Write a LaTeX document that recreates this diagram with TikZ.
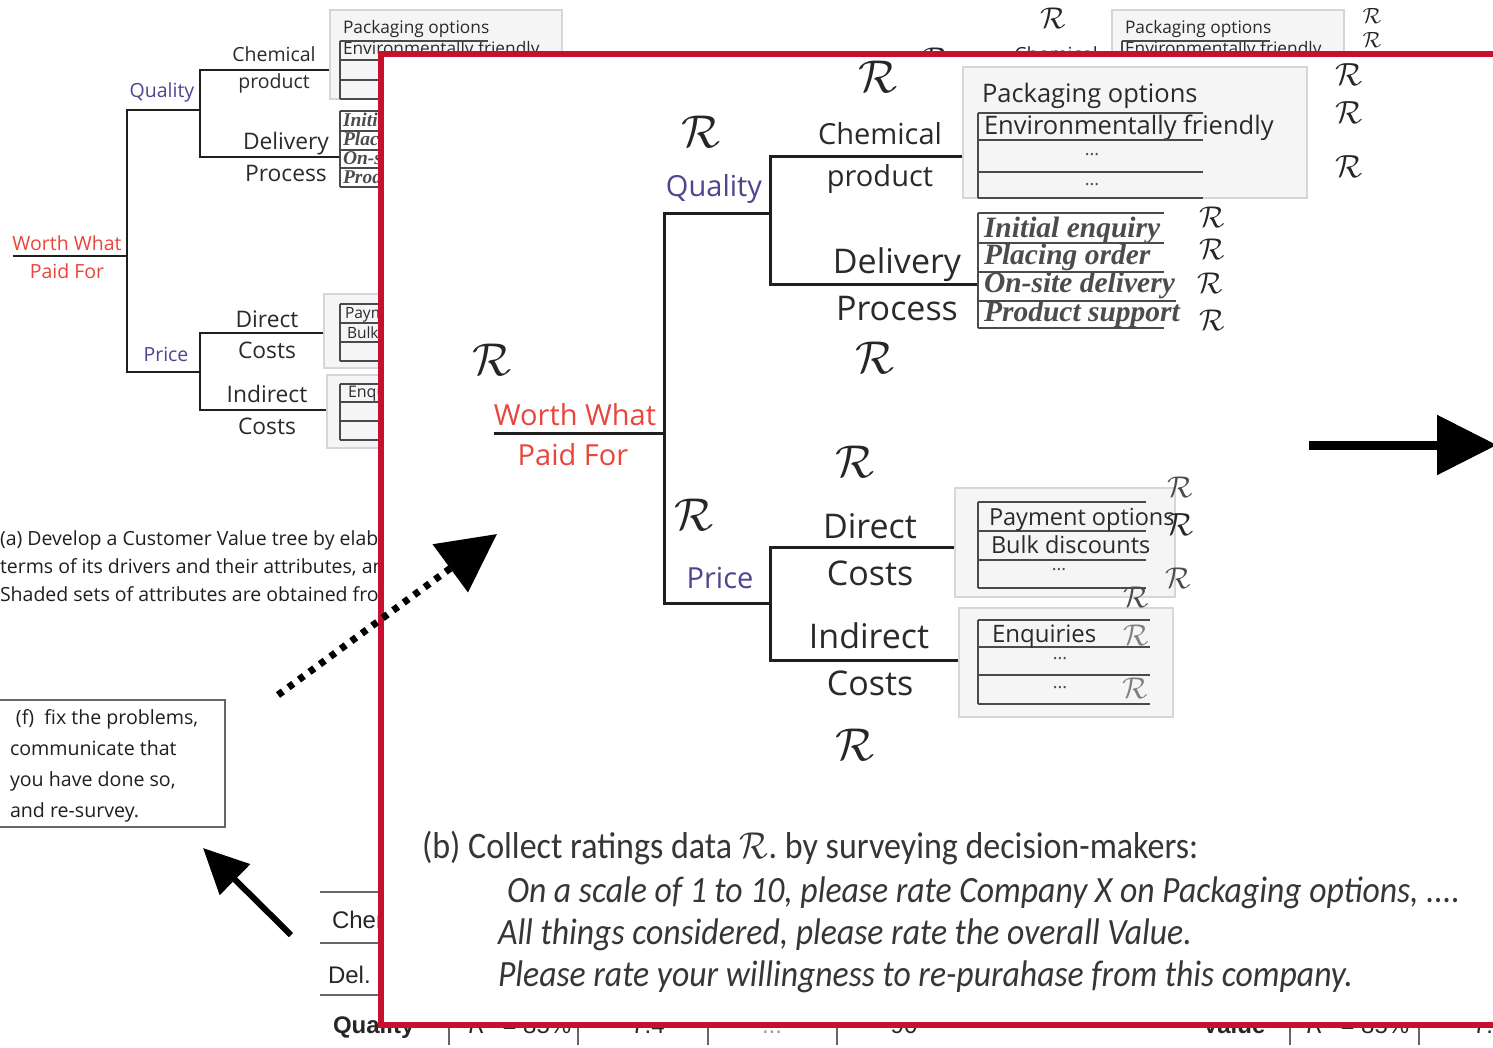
\documentclass[tikz,border=0pt]{standalone}
\usepackage{fontspec}
\setmainfont{Open Sans}
\newfontfamily\calfont{Carlito}
\newfontfamily\attrfont{Liberation Serif}
\newfontfamily\tabfont{Liberation Sans}
\usetikzlibrary{arrows.meta}
\newcommand\fsz[1]{\fontsize{#1}{#1}\selectfont}
% calligraphic R scaled to the current font size
\makeatletter
\newcommand\Rsym{{\font\rtmp=cmsy10 at \f@size pt\rtmp R}}
\makeatother
\newcommand\tall[1]{\scalebox{1}[1.1]{#1}}
\definecolor{wwred}{HTML}{E8453C}
\definecolor{drvpurple}{HTML}{54428E}
\definecolor{framered}{HTML}{C8102E}
\definecolor{shade}{HTML}{F5F5F5}
\definecolor{shadeedge}{HTML}{D6D6D6}
\definecolor{rowline}{HTML}{4A4A4A}
\definecolor{labeltext}{HTML}{2A2A2A}
\definecolor{btext}{HTML}{363636}

\begin{document}
\begin{tikzpicture}[x=1pt,y=-1pt,
  every node/.style={inner sep=0pt,outer sep=0pt},
  lbig/.style={font=\fsz{29},text=labeltext,anchor=base},
  lbigw/.style={font=\fsz{34},text=labeltext,anchor=base},
  lsmall/.style={font=\fsz{19.5},text=labeltext,anchor=base},
  lsmallw/.style={font=\fsz{22.8},text=labeltext,anchor=base},
  treeline/.style={line width=3pt,draw=black!88},
  streeline/.style={line width=2pt,draw=black!88},
  shadebox/.style={fill=shade,draw=shadeedge,line width=1.5pt},
  rowrule/.style={line width=2.6pt,draw=rowline},
  srowrule/.style={line width=1.6pt,draw=rowline},
  rmark/.style={font=\fsz{#1},text=black!85},
  rmark/.default=30,
  boxtext/.style={font=\fsz{#1},text=labeltext,anchor=base west},
  attr/.style={font=\attrfont\bfseries\itshape\fsz{#1},text=black!70,anchor=base west},
  btxt/.style={font=\calfont\itshape\fsz{33.7},text=btext,anchor=base west},
  tabtxt/.style={font=\tabfont\fsz{24},text=black!85},
  tabrule/.style={line width=1.4pt,draw=black!60},
]
\useasboundingbox (0,0) rectangle (1493,1048);
\fill[white] (0,0) rectangle (1493,1048);

% ---------- step (a): small customer value tree ----------
\node[lsmall,text=wwred] (sww) at (67,251) {Worth What};
\node[lsmall,text=wwred] (spf) at (67,279) {Paid For};
\node[lsmall,text=drvpurple] (squal) at (162,98) {Quality};
\node[lsmall,text=drvpurple] (sprice) at (166,362) {Price};
\node[lsmall] (schem) at (274,62) {Chemical};
\node[lsmall] (sprod) at (274,89) {product};
\node[lsmallw] (sdeliv) at (286,150) {Delivery};
\node[lsmallw] (sproc) at (286,182) {Process};
\node[lsmallw] (sdir) at (267,327) {Direct};
\node[lsmallw] (sdcost) at (267,359) {Costs};
\node[lsmallw] (sind) at (267,402) {Indirect};
\node[lsmallw] (sicost) at (267,434) {Costs};

\coordinate (sroot) at (13,256);
\coordinate (srj) at (127,256);
\coordinate (sqj) at (127,110);
\coordinate (spj) at (127,372);
\coordinate (sq2) at (200,110);
\coordinate (sp2) at (200,372);
\coordinate (schj) at (200,70);
\coordinate (sdlj) at (200,157);
\coordinate (sdcj) at (200,333);
\coordinate (sicj) at (200,410);
\coordinate (schE) at (340,70);
\coordinate (sdlE) at (340,157);
\coordinate (sdcE) at (340,333);
\coordinate (sicE) at (340,410);
\draw[streeline] (sroot) -- (srj);
\draw[streeline] (sq2) -- (sqj) -- (spj) -- (sp2);
\draw[streeline] (schE) -- (schj) -- (sdlj) -- (sdlE);
\draw[streeline] (sdcE) -- (sdcj) -- (sicj) -- (sicE);

% attribute groups of the small tree
\draw[shadebox] (330,10) rectangle (562,99);
\draw[shadebox] (324,294) rectangle (600,368);
\draw[shadebox] (327,375) rectangle (600,448);
\node[boxtext=17.3] (spack) at (343,34) {Packaging options};
\node[boxtext=17.3] (senv) at (343,55) {Environmentally friendly};
\draw[srowrule] (340,41) -- (340,99);
\foreach \yy in {41,60,80,99} \draw[srowrule] (340,\yy) -- (488,\yy);
\draw[srowrule] (340,111) -- (340,187);
\foreach \yy in {111,131,150,168,187} \draw[srowrule] (340,\yy) -- (450,\yy);
\node[attr=19.5] (sa1) at (343,127) {Initial enquiry};
\node[attr=19.5] (sa2) at (343,146) {Placing order};
\node[attr=19.5] (sa3) at (343,165) {On-site delivery};
\node[attr=19.5] (sa4) at (343,184) {Product support};
\draw[srowrule] (340,304) -- (340,361);
\foreach \yy in {304,323,342,361} \draw[srowrule] (340,\yy) -- (451,\yy);
\node[boxtext=15.5] (spay) at (345,319) {Payment options};
\node[boxtext=15.5] (sbulk) at (347,338) {Bulk discounts};
\draw[srowrule] (340,384) -- (340,440);
\foreach \yy in {384,402,421,440} \draw[srowrule] (340,\yy) -- (454,\yy);
\node[boxtext=16] (senq) at (348,397) {Enquiries};

% caption of step (a)
\node[font=\fsz{19.5},text=black!88,anchor=base west] (capa1) at (0,545) {(a) Develop a Customer Value tree by elaborating};
\node[font=\fsz{19.5},text=black!88,anchor=base west] (capa2) at (0,573) {terms of its drivers and their attributes, and};
\node[font=\fsz{19.5},text=black!88,anchor=base west] (capa3) at (0,601) {Shaded sets of attributes are obtained from};

% step (f)
\draw[line width=1.5pt,draw=black!60] (-3,700) rectangle (225,827);
\node[font=\fsz{19.6},text=black!88,anchor=base west] (f1) at (16,724) {(f)\ \ fix the problems,};
\node[font=\fsz{19.6},text=black!88,anchor=base west] (f2) at (10,755) {communicate that};
\node[font=\fsz{19.6},text=black!88,anchor=base west] (f3) at (10,786) {you have done so,};
\node[font=\fsz{19.6},text=black!88,anchor=base west] (f4) at (10,817) {and re-survey.};

\coordinate (stail) at (291,935);
\coordinate (stip) at (203,848);
\draw[line width=6pt,-{Triangle[length=45pt,width=42pt]}] (stail) -- (stip);

% results table
\draw[tabrule] (320,892) -- (400,892);
\draw[tabrule] (320,943) -- (400,943);
\draw[tabrule] (320,995) -- (400,995);
\node[tabtxt,anchor=base west] (tche) at (332,928) {Chem.};
\node[tabtxt,anchor=base west] (tdel) at (328,983) {Del.};
\node[tabtxt,anchor=base west,font=\tabfont\bfseries\fsz{24}] (tqual) at (333,1033) {Quality};
\foreach \xx in {449,578,708,837,1290,1419} \draw[tabrule] (\xx,1000) -- (\xx,1045);
\node[tabtxt,anchor=base] (tr1) at (520,1033) {\textit{R}\textsuperscript{2} = 85\%};
\node[tabtxt,anchor=base] (tv1) at (648,1033) {7.4};
\node[tabtxt,anchor=base,text=black!40] (tdots) at (772,1033) {...};
\node[tabtxt,anchor=base] (t90) at (904,1033) {90};
\node[tabtxt,anchor=base,font=\tabfont\bfseries\fsz{24}] (tval) at (1234,1033) {Value};
\node[tabtxt,anchor=base] (tr2) at (1358,1033) {\textit{R}\textsuperscript{2} = 85\%};
\node[tabtxt,anchor=base west] (tv2) at (1473,1033) {7.4};

% step (b), small copy at the top right
\node[rmark=30] (bgr1) at (1053,18) {\Rsym};
\node[rmark=30] (bgr2) at (935,58) {\Rsym};
\node[lsmall] (bgchem) at (1056,62) {Chemical};
\draw[shadebox] (1112,10) rectangle (1344,99);
\node[boxtext=17.3] (bgpack) at (1125,34) {Packaging options};
\node[boxtext=17.3] (bgenv) at (1125,55) {Environmentally friendly};
\draw[srowrule] (1122,41) -- (1122,99);
\draw[srowrule] (1122,41) -- (1270,41);
\node[rmark=22] (bgr3) at (1372,16) {\Rsym};
\node[rmark=22] (bgr4) at (1372,40) {\Rsym};

% ---------- enlarged step (b) ----------
\draw[framered,line width=6pt,fill=white] (381,54) rectangle (1510,1025);

\node[lbig,text=wwred] (ww) at (575,425) {Worth What};
\node[lbig,text=wwred] (pf) at (573,465) {Paid For};
\node[lbig,text=drvpurple] (qual) at (714,197) {Quality};
\node[lbig,text=drvpurple] (price) at (720,588) {Price};
\node[lbig] (chem) at (880,145) {Chemical};
\node[lbig] (prod) at (880,187) {product};
\node[lbigw] (deliv) at (897,274) {Delivery};
\node[lbigw] (proc) at (897,321) {Process};
\node[lbigw] (direct) at (870,538) {Direct};
\node[lbigw] (dcosts) at (870,585) {Costs};
\node[lbigw] (indirect) at (869,648) {Indirect};
\node[lbigw] (icosts) at (870,695) {Costs};

\coordinate (root) at (494,433);
\coordinate (rj) at (664,433);
\coordinate (qj) at (664,214);
\coordinate (pj) at (664,603);
\coordinate (q2) at (770,214);
\coordinate (p2) at (770,603);
\coordinate (chj) at (770,157);
\coordinate (dlj) at (770,285);
\coordinate (dcj) at (770,547);
\coordinate (icj) at (770,660);
\coordinate (chE) at (978,157);
\coordinate (dlE) at (978,285);
\coordinate (dcE) at (978,547);
\coordinate (icE) at (978,660);
\draw[treeline] (root) -- (rj);
\draw[treeline] (q2) -- (qj) -- (pj) -- (p2);
\draw[treeline] (chE) -- (chj) -- (dlj) -- (dlE);
\draw[treeline] (dcE) -- (dcj) -- (icj) -- (icE);

% attribute groups
\draw[shadebox] (963,67) rectangle (1307,198);
\draw[shadebox] (955,488) rectangle (1175,597);
\draw[shadebox] (959,608) rectangle (1173,717);

\node[boxtext=25.5] (pack) at (982,103) {Packaging options};
\node[boxtext=25.5] (env) at (984,135) {Environmentally friendly};
\draw[rowrule] (978,113) -- (978,198);
\foreach \yy in {113,140,172,198} \draw[rowrule] (978,\yy) -- (1203,\yy);
\node[text=rowline,font=\fsz{18}] (pd1) at (1092,155) {...};
\node[text=rowline,font=\fsz{18}] (pd2) at (1092,185) {...};

\draw[rowrule] (978,213) -- (978,328);
\foreach \yy/\xe in {213/1164,243/1164,272/1164,301/1176,328/1164} \draw[rowrule] (978,\yy) -- (\xe,\yy);
\node[attr=29.5] (a1) at (984,238) {Initial enquiry};
\node[attr=29.5] (a2) at (984,265) {Placing order};
\node[attr=29.5] (a3) at (984,293) {On-site delivery};
\node[attr=29.5] (a4) at (984,322) {Product support};

\draw[rowrule] (978,502) -- (978,588);
\foreach \yy in {502,531,560,588} \draw[rowrule] (978,\yy) -- (1146,\yy);
\node[boxtext=23.5] (pay) at (989,525) {Payment options};
\node[boxtext=23.5] (bulk) at (991,553) {Bulk discounts};
\node[text=rowline,font=\fsz{18}] (dd1) at (1059,570) {...};

\draw[rowrule] (978,620) -- (978,704);
\foreach \yy in {620,647,675,704} \draw[rowrule] (978,\yy) -- (1150,\yy);
\node[boxtext=24] (enq) at (992,642) {Enquiries};
\node[text=rowline,font=\fsz{18}] (id1) at (1060,659) {...};
\node[text=rowline,font=\fsz{18}] (id2) at (1060,688) {...};

% ratings marks
\node[rmark=46] (r1) at (878,77) {\Rsym};
\node[rmark=46] (r2) at (701,132) {\Rsym};
\node[rmark=46] (r3) at (492,360) {\Rsym};
\node[rmark=46] (r4) at (875,358) {\Rsym};
\node[rmark=46] (r5) at (855,462) {\Rsym};
\node[rmark=46] (r6) at (694,515) {\Rsym};
\node[rmark=46] (r7) at (855,745) {\Rsym};
\node[rmark=32] (r8) at (1349,75) {\Rsym};
\node[rmark=32] (r9) at (1349,113) {\Rsym};
\node[rmark=32] (r10) at (1349,167) {\Rsym};
\node[rmark=30] (r11) at (1212,217) {\Rsym};
\node[rmark=30] (r12) at (1212,249) {\Rsym};
\node[rmark=30] (r13) at (1210,283) {\Rsym};
\node[rmark=30] (r14) at (1212,320) {\Rsym};
\node[rmark=30,text=black!70] (r15) at (1180,487) {\Rsym};
\node[rmark=32,text=black!85] (r16) at (1180,525) {\Rsym};
\node[rmark=30,text=black!70] (r17) at (1178,578) {\Rsym};
\node[rmark=30,text=black!70] (r18) at (1136,597) {\Rsym};
\node[rmark=30,text=black!50] (r19) at (1136,635) {\Rsym};
\node[rmark=30,text=black!50] (r20) at (1135,688) {\Rsym};

% survey questions
\node[font=\calfont\fsz{34},text=btext,anchor=base west] (bhead) at (422,858) {\tall{(b) Collect ratings data \Rsym. by surveying decision-makers:}};
\node[btxt] (bq1) at (507,902) {\tall{On a scale of 1 to 10, please rate Company X on Packaging options, ....}};
\node[btxt] (bq2) at (498,944) {\tall{All things considered, please rate the overall Value.}};
\node[btxt] (bq3) at (498,986) {\tall{Please rate your willingness to re-purahase from this company.}};

% arrows
\coordinate (rtail) at (1309,445);
\coordinate (rtip) at (1497,445);
\draw[line width=9pt,-{Triangle[length=60pt,width=58pt]}] (rtail) -- (rtip);

\coordinate (dtail) at (278,695);
\coordinate (dtip) at (497,534);
\draw[line width=7pt,dash pattern=on 6pt off 7pt,-{Triangle[length=58pt,width=58pt]}] (dtail) -- (dtip);
\end{tikzpicture}
\end{document}
